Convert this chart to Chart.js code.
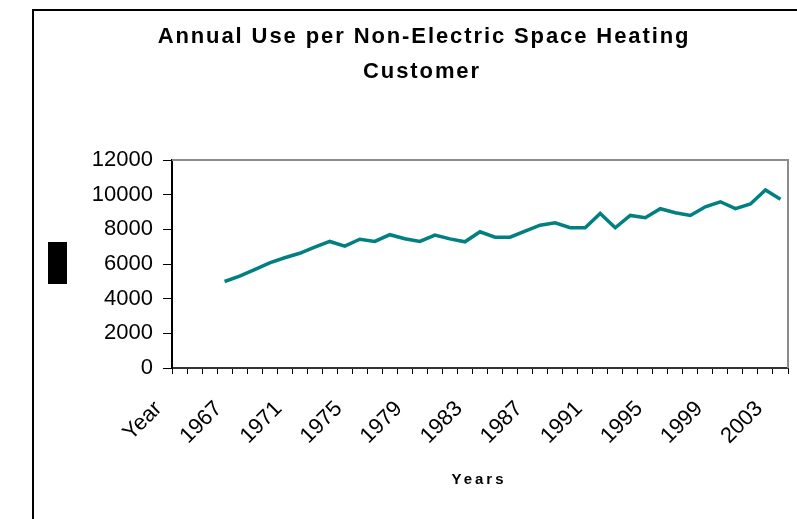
<!DOCTYPE html>
<html>
<head>
<meta charset="utf-8">
<script src="https://cdn.jsdelivr.net/npm/chart.js@4/dist/chart.umd.min.js"></script>
<style>
    html, body { margin: 0; padding: 0; background: #fff; }
    #wrap { width: 797px; height: 519px; position: relative; }
</style>
</head>
<body>
<div id="wrap"><canvas id="useChart" width="797" height="519"></canvas></div>
<script>
// categories as they sit on the x axis (first three cells have no value)
const categories = ['Year'];
for (let y = 1964; y <= 2003; y++) categories.push(String(y));

const annualUse = [
    null, null, null,
    4990, 5300, 5680, 6070, 6360, 6620, 6970, 7300, 7030, 7430,
    7300, 7690, 7460, 7300, 7670, 7450, 7280, 7860, 7550, 7550,
    7900, 8240, 8380, 8090, 8090, 8920, 8090, 8800, 8670, 9190,
    8960, 8800, 9300, 9590, 9190, 9460, 10270, 9730
];

const yTicks = [0, 2000, 4000, 6000, 8000, 10000, 12000];
const titleLines = ['Annual Use per Non-Electric Space Heating', 'Customer'];
const xTitle = 'Years';

// frame, plot border, black box and the spaced-out title
const decorPlugin = {
    id: 'decor',
    beforeDraw(chart) {
        const ctx = chart.ctx;
        ctx.save();
        ctx.fillStyle = '#fff';
        ctx.fillRect(0, 0, chart.width, chart.height);
        ctx.strokeStyle = '#000';
        ctx.lineWidth = 2;
        ctx.beginPath();
        ctx.moveTo(33, 519);
        ctx.lineTo(33, 10);
        ctx.lineTo(797, 10);
        ctx.stroke();
        ctx.fillStyle = '#000';
        ctx.fillRect(48, 242, 19, 42);

        ctx.font = 'bold 22px "Liberation Sans", Arial, sans-serif';
        ctx.textAlign = 'center';
        ctx.textBaseline = 'alphabetic';
        if ('letterSpacing' in ctx) ctx.letterSpacing = '1.9px';
        ctx.fillText(titleLines[0], 424, 43);
        ctx.fillText(titleLines[1], 422, 78);
        if ('letterSpacing' in ctx) ctx.letterSpacing = '3px';
        ctx.font = 'bold 15px "Liberation Sans", Arial, sans-serif';
        ctx.fillText(xTitle, 479, 484);
        ctx.restore();
    },
    afterDraw(chart) {
        const a = chart.chartArea;
        const ctx = chart.ctx;
        ctx.save();
        ctx.strokeStyle = '#8c8c8c';
        ctx.lineWidth = 2;
        ctx.beginPath();
        ctx.moveTo(a.left, a.top);
        ctx.lineTo(a.right, a.top);
        ctx.lineTo(a.right, a.bottom);
        ctx.stroke();
        ctx.restore();
    }
};

const ctx = document.getElementById('useChart').getContext('2d');
window.useChartInstance = new Chart(ctx, {
    type: 'line',
    data: {
        labels: categories,
        datasets: [{
            label: 'Annual Use',
            data: annualUse,
            borderColor: '#008080',
            borderWidth: 3.5,
            pointRadius: 0,
            tension: 0,
            spanGaps: false
        }]
    },
    options: {
        responsive: false,
        animation: false,
        layout: { padding: { top: 160, right: 9, left: 0, bottom: 0 } },
        plugins: {
            legend: { display: false },
            tooltip: { enabled: false },
            title: { display: false }
        },
        scales: {
            x: {
                offset: true,
                grid: { offset: true, drawOnChartArea: false, tickLength: 6, color: '#000', tickWidth: 1 },
                border: { color: '#333', width: 2 },
                ticks: {
                    autoSkip: false,
                    maxRotation: 45,
                    minRotation: 45,
                    padding: 22,
                    labelOffset: -21,
                    color: '#000',
                    font: { family: '"Liberation Sans", Arial, sans-serif', size: 22 },
                    callback: (v, i) => (i % 4 === 0 ? categories[i] : '')
                },
                afterFit: (s) => {
                    s.height = 151;
                    s.paddingLeft = 0;
                    s.paddingRight = 0;
                }
            },
            y: {
                min: 0,
                max: 12000,
                afterBuildTicks: (s) => { s.ticks = yTicks.map(v => ({ value: v })); },
                grid: { drawOnChartArea: false, tickLength: 9, color: '#000' },
                border: { color: '#000', width: 2 },
                ticks: {
                    padding: 10,
                    color: '#000',
                    font: { family: '"Liberation Sans", Arial, sans-serif', size: 22 },
                    callback: (v) => String(v)
                },
                afterFit: (s) => { s.width = 172; }
            }
        }
    },
    plugins: [decorPlugin]
});
</script>
</body>
</html>
